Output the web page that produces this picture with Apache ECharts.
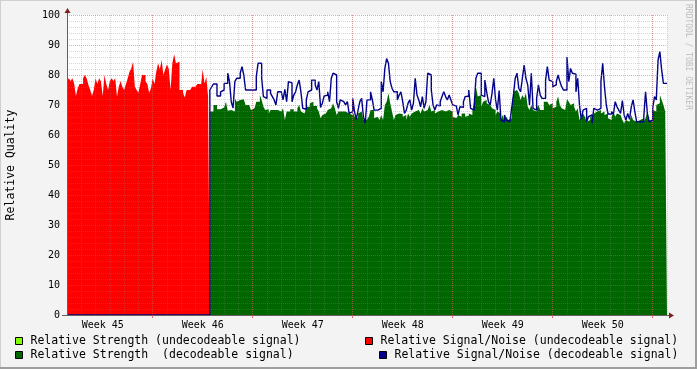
<!DOCTYPE html>
<html><head><meta charset="utf-8">
<script src="https://cdn.jsdelivr.net/npm/echarts@6/dist/echarts.min.js"></script>
<style>html,body{margin:0;padding:0;background:#f3f3f3}#c{width:697px;height:369px}</style>
</head><body><div id="c"></div>
<script>
// ---------- data ----------
const weekLabels = ['Week 45','Week 46','Week 47','Week 48','Week 49','Week 50'];
const seriesNames = [
  'Relative Strength (undecodeable signal)',
  'Relative Strength  (decodeable signal)',
  'Relative Signal/Noise (undecodeable signal)',
  'Relative Signal/Noise (decodeable signal)'
];
// samples every 3 hours (8 per day); plot starts at day 0, decodeable signal from day 10
const limeStrength = []; // no visible values
const redSN = [78,78.9,78,78.9,77.2,73,75.6,77,77,78.9,80,78.9,76.7,75,73,75,78.9,77,78.9,77.8,
  73,80,77,75,78,78.9,78,78.9,72.8,76.1,78,76.1,75,77,78.9,81.1,82.2,84.4,76.1,75,
  74.1,77,80,80,77.8,77,74.1,75.6,78.9,77,81.1,83.9,81.9,85,80,81.9,83.5,82,75,83.9,
  86.9,83.9,84.4,75,75,73.9,72.5,75,75,75,76.1,76.1,76.1,77,77,76.1,81.9,77.2,79.4,73];
const greenStrength = [
  67.8,67.8,70,70,68.6,68.6,69.2,69.2,69.2,71.1,68.1,68.3,67.8,67.8,72.2,71.1,71.7,71.7,71.9,71.9,70,70,69.4,68.3,68.9,68.9,71.1,71.1,73.3,71.7,69.4,68.3,68.6,
  67.2,68.3,68.3,68.9,68.3,68.3,67.8,67.8,68.9,65,67.8,67.8,68.6,68.6,67.8,67.8,68.9,70,67.8,67.2,67.2,69.4,69.4,70.6,71.1,69.7,69.7,68.9,67.8,65.6,66.7,67.2,67.2,68.3,68.9,69.4,70.6,68.9,66.7,67.8,67.8,67.8,67.8,67.8,67.2,66.7,66.7,67.8,66.1,65.6,67.2,67.8,68.3,65,65.2,
  65.6,66.1,68.3,68.3,65.6,66.1,66.1,65,66.7,65,70,71.1,73.9,70.6,67.8,65,66.7,67.2,66.7,67,66.1,66.7,65,67.2,66.1,67.2,67.8,67.4,68.3,68.6,67.2,68.9,67.8,68.3,68.9,70,67.8,68.3,67.2,67.8,67.8,68.3,67.8,67.8,68.3,68.3,68.3,67.8,66.1,65.6,65.6,66.7,66.1,67.2,67.2,66.1,
  66.4,67.2,66.7,67.8,71.1,76.1,72.8,73.3,69.4,71.1,71.7,70.6,70,70.6,68.9,68.3,66.7,67.8,67.2,65,66.7,64.4,66.1,65,65.6,68.3,74.4,75,75.6,73.9,71.7,73.3,72.2,73.9,69.4,68.3,70,68.3,67.8,68.9,70,68.3,68.3,71.1,71.1,70.6,70,70.6,68.9,69.4,71.1,72.8,70,68.9,68.3,68.3,
  72,71.1,70,70.6,69.4,67.8,68.9,65,66.1,67.2,66.1,64.4,65,66.7,65,67.2,67.8,67.2,68.3,67.2,67.8,66.7,67.2,65.6,65,66.1,67.8,66.1,67.2,66.7,67.2,65,63.9,65,64.4,65,66.7,65,64.4,63.9,65,65,65.6,64.4,65.6,67.8,65,64.4,68.3,67.8,70,70.6,73.3,71.7,70,67.8];
const blueSN = [
  0,0,0,0,0,0,0,0,0,0,0,0,0,0,0,0,0,0,0,0,0,0,0,0,0,0,0,0,0,0,0,0,0,0,0,0,0,0,0,0,
  0,0,0,0,0,0,0,0,0,0,0,0,0,0,0,0,0,0,0,0,0,0,0,0,0,0,0,0,0,0,0,0,0,0,0,0,0,0,0,0,
  75,76,77,77,73,73,74.4,75,77.2,77.2,80.6,77.8,71,69,77.8,78.9,78.9,80.6,82.8,80,75,75,75,75,75,75,79.4,83.9,83.9,79,72.8,72.2,75,
  75,73.9,72.8,71.7,70,74.4,74.4,75,71.7,75.2,71.1,77.8,77.4,71.1,73.3,74.4,76.7,78.3,74.4,68.9,68.6,71.7,74.4,75,78.3,78.3,76.7,75,77.8,69.2,70.6,73,73.3,74.4,71.1,78.9,80.6,80,71.1,68.9,71.7,71.1,71.1,70,71.1,67.2,67.8,72.2,67.8,65.2,68.3,71.1,72.2,66.1,63.9,
  71.7,71.7,74.4,71.7,68.3,68.3,67.8,68.9,77.8,74.4,82.2,85.5,83.9,77.8,75.6,74.4,74.4,71.7,73.3,74.4,71.1,67.2,68.3,70.6,71.7,68.3,70.6,78.9,73.3,71.7,69.4,72.8,68.9,71.1,80.6,80,75,70,68.3,70,69.7,71.1,72.8,74.4,72.8,71.7,73.3,71.7,70,69.7,69.4,66.7,69.4,69.2,71.1,72.8,
  73,75,68.9,68.3,69.4,78.9,80.6,80.6,73.3,72.8,78.3,74.4,71.1,70,73.9,78.9,71.7,68.3,74.8,65,64.4,66.7,65,64.4,64.4,68.9,73.3,78.9,80.6,75.6,74.4,78.9,83.3,78.9,76.7,70,80.6,68.9,68.3,72.2,76.7,73.3,72.2,72.2,78.3,82.8,78.3,77.8,76.1,76.7,77.8,80,77.8,76.1,75,75,
  86,77.8,82.2,80.6,80.3,74.4,78.9,70,65,68.3,68.9,64.4,66.1,66.7,63.9,68.9,68.3,68.6,68.9,77.8,83.9,76.1,70,67,67,67.8,67,71.1,69.4,68.3,67.2,71.5,66.7,65,67.2,65.2,69.4,71.7,67.8,64.4,64.4,65,64.4,66.1,74.4,67.2,64.4,65,68.9,72.8,71.7,85,87.8,81.7,77.2,77.2];

// ---------- layout / style ----------
const FONT = 'DejaVu Sans Mono';
const GL = 67, GT = 15, GW = 600, GH = 300;
const DAYS = 42, STEP = 0.125, DECODE_START = 10;
const GRID_C = 'rgba(128,128,128,0.32)', MGRID_C = 'rgba(222,79,79,0.5)', ARROW_C = '#801f1f';

function toSteps(vals, startDay) {
  const d = vals.map((v, i) => [startDay + i * STEP, v]);
  d.push([startDay + vals.length * STEP, vals[vals.length - 1]]);
  return d;
}
const halfDays = [];
for (let k = 0; k <= DAYS * 2; k++) halfDays.push('');
weekLabels.forEach((w, j) => { halfDays[(2.5 + 7 * j) * 2] = w; });
const isWeekBoundary = i => i % 14 === 12;

function mkLegend(name, color, left, top) {
  return {
    show: true, left: left, top: top, padding: 0, itemWidth: 7, itemHeight: 7, selectedMode: false,
    data: [{ name: name, icon: 'rect', itemStyle: { color: color, borderColor: '#000', borderWidth: 1 } }],
    textStyle: { fontFamily: FONT, fontSize: 11.5, color: '#000', padding: [0, 0, 0, 3], lineHeight: 14 }
  };
}

const chart = echarts.init(document.getElementById('c'));
chart.setOption({
  animation: false,
  backgroundColor: '#f3f3f3',
  textStyle: { fontFamily: FONT },
  grid: { left: GL, top: GT, width: GW, height: GH, show: true, backgroundColor: '#fff', borderWidth: 0,
          containLabel: false, outerBoundsMode: 'none' },
  xAxis: [
    { type: 'value', min: 0, max: DAYS, interval: 1, position: 'bottom', z: 3,
      axisLine: { show: true, onZero: false, lineStyle: { color: '#606060', width: 1 } },
      axisTick: { show: false }, axisLabel: { show: false },
      splitLine: { show: true, lineStyle: { color: GRID_C, type: [1, 1], width: 1 } } },
    { type: 'category', data: halfDays, boundaryGap: false, position: 'bottom', z: 3,
      axisLine: { show: false },
      axisTick: { show: true, interval: isWeekBoundary, length: 3, lineStyle: { color: 'rgba(222,79,79,0.8)' } },
      axisLabel: { show: true, interval: (i, v) => v !== '', margin: 5, fontFamily: FONT, fontSize: 10, color: '#000' },
      splitLine: { show: true, interval: isWeekBoundary, lineStyle: { color: MGRID_C, type: [1, 1], width: 1 } } }
  ],
  yAxis: {
    type: 'value', min: 0, max: 100, interval: 10, z: 3,
    name: 'Relative Quality', nameLocation: 'middle', nameGap: 50, nameRotate: 90,
    nameTextStyle: { fontFamily: FONT, fontSize: 11.5, color: '#000' },
    axisLine: { show: true, lineStyle: { color: '#606060', width: 1 } },
    axisTick: { show: false },
    axisLabel: { margin: 7, fontFamily: FONT, fontSize: 10, color: '#000' },
    splitLine: { show: true, lineStyle: { color: MGRID_C, type: [1, 1], width: 1 } },
    minorTick: { show: false, splitNumber: 5 },
    minorSplitLine: { show: true, lineStyle: { color: GRID_C, type: [1, 1], width: 1 } }
  },
  legend: [
    mkLegend(seriesNames[0], '#80ff00', 15, 334),
    mkLegend(seriesNames[1], '#006600', 15, 348),
    mkLegend(seriesNames[2], '#ff0000', 365, 334),
    mkLegend(seriesNames[3], '#000088', 379, 348)
  ],
  series: [
    { name: seriesNames[0], type: 'line', data: limeStrength, color: '#80ff00', symbol: 'none' },
    { name: seriesNames[1], type: 'line', step: 'end', data: toSteps(greenStrength, DECODE_START), color: '#006600',
      symbol: 'none', lineStyle: { width: 0, opacity: 0 }, areaStyle: { color: '#006600', opacity: 1 }, z: 1 },
    { name: seriesNames[2], type: 'line', step: 'end', data: toSteps(redSN, 0), color: '#ff0000',
      symbol: 'none', lineStyle: { width: 0, opacity: 0 }, areaStyle: { color: '#ff0000', opacity: 1 }, z: 1 },
    { name: seriesNames[3], type: 'line', step: 'end', data: toSteps(blueSN, 0), color: '#000088',
      symbol: 'none', lineStyle: { width: 1.4, color: '#000088' }, z: 2 }
  ],
  graphic: [
    { type: 'rect', shape: { x: 0, y: 0, width: 697, height: 1 }, style: { fill: '#cfcfcf' }, silent: true },
    { type: 'rect', shape: { x: 0, y: 0, width: 1, height: 369 }, style: { fill: '#cfcfcf' }, silent: true },
    { type: 'rect', shape: { x: 0, y: 367, width: 697, height: 2 }, style: { fill: '#9e9e9e' }, silent: true },
    { type: 'rect', shape: { x: 695, y: 0, width: 2, height: 369 }, style: { fill: '#9e9e9e' }, silent: true },
    { type: 'line', shape: { x1: GL + 0.5, y1: GT, x2: GL + 0.5, y2: GT - 4 }, style: { stroke: '#606060', lineWidth: 1 }, silent: true },
    { type: 'line', shape: { x1: GL + GW, y1: GT + GH + 0.5, x2: GL + GW + 2, y2: GT + GH + 0.5 }, style: { stroke: '#606060', lineWidth: 1 }, silent: true },
    { type: 'line', shape: { x1: GL - 5, y1: GT + GH + 0.5, x2: GL, y2: GT + GH + 0.5 }, style: { stroke: '#606060', lineWidth: 1 }, silent: true },
    { type: 'polygon', shape: { points: [[GL - 2.5, GT - 2], [GL + 3.5, GT - 2], [GL + 0.5, GT - 7]] }, style: { fill: ARROW_C }, silent: true },
    { type: 'polygon', shape: { points: [[GL + GW + 2, GT + GH - 2.5], [GL + GW + 2, GT + GH + 3.5], [GL + GW + 7, GT + GH + 0.5]] }, style: { fill: ARROW_C }, silent: true },
    { type: 'text', x: 688, y: 4, rotation: -Math.PI / 2,
      style: { text: 'RRDTOOL / TOBI OETIKER', fontFamily: FONT, fontSize: 8, fill: '#bdbdbd', align: 'left', verticalAlign: 'middle' }, silent: true }
  ]
});
</script></body></html>
